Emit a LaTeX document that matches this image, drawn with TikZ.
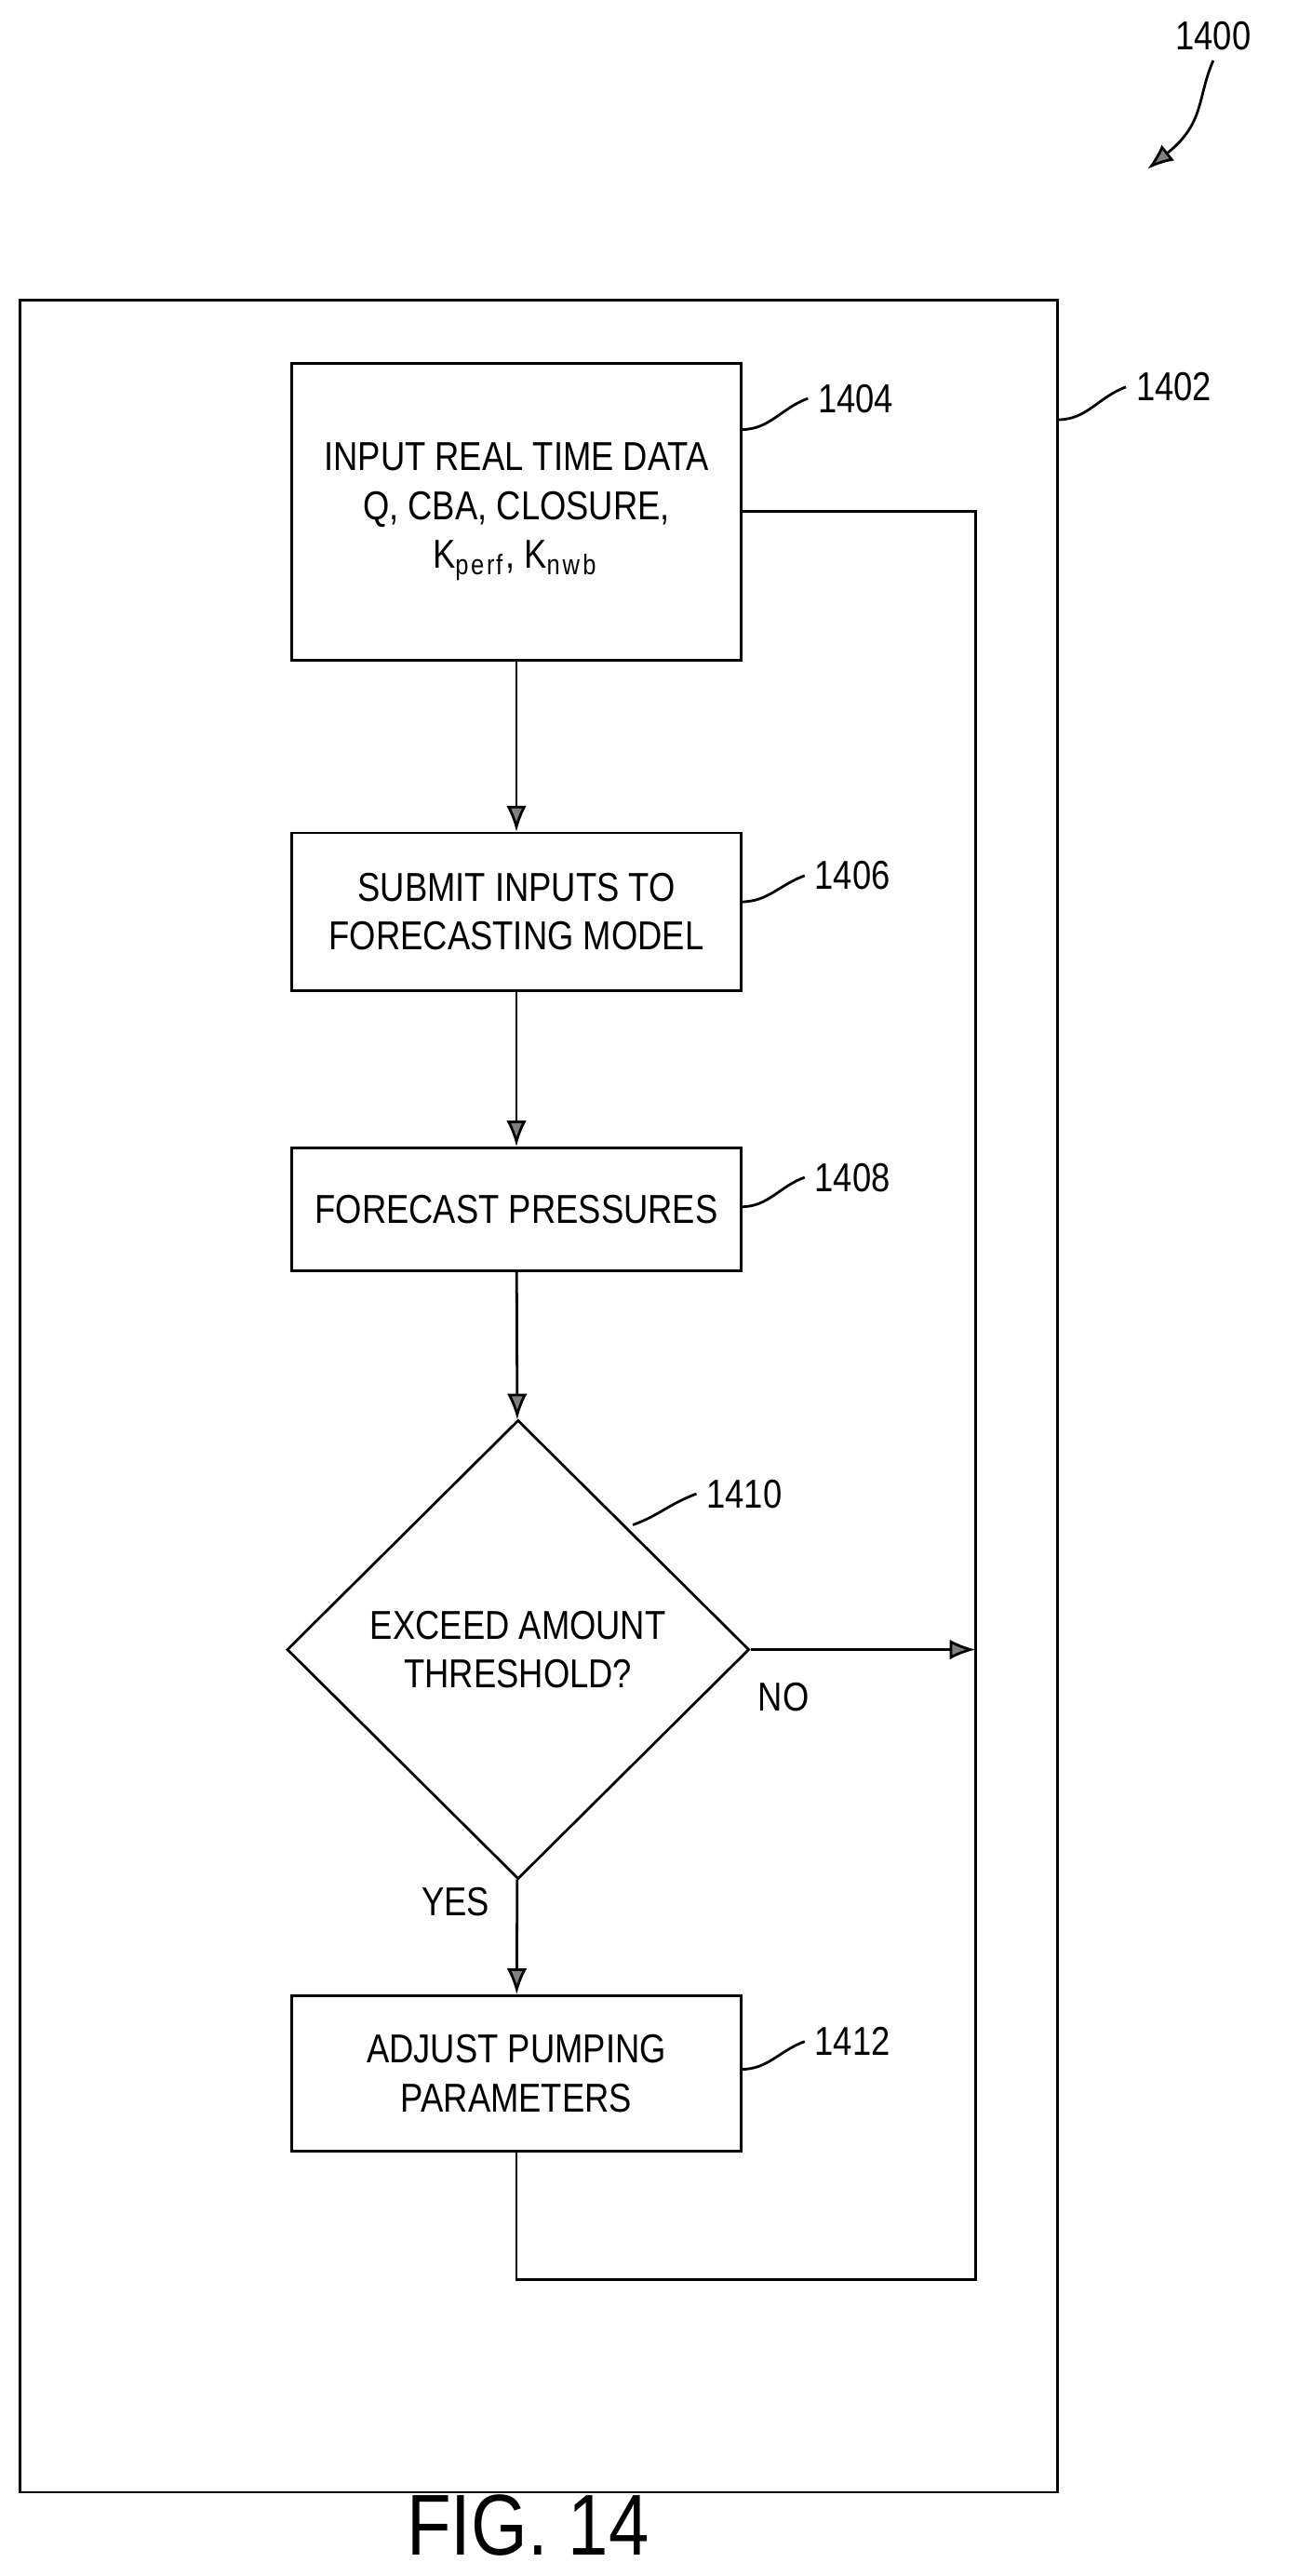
\documentclass[tikz,border=0pt]{standalone}
\usepackage{fontspec}
\setmainfont{Liberation Sans}[FakeStretch=0.84]
\usetikzlibrary{arrows.meta,shapes.geometric,positioning}
\begin{document}
\begin{tikzpicture}[x=0.02cm,y=-0.02cm,
  step_node/.style={draw,line width=0.9pt,minimum width=5.48cm,align=center,font=\fontsize{14}{17}\selectfont,inner sep=2pt},
  dec_node/.style={draw,line width=0.9pt,diamond,minimum width=5.64cm,minimum height=5.6cm,align=center,font=\fontsize{14}{17}\selectfont,inner sep=0pt},
  ref_label/.style={font=\fontsize{14}{17}\selectfont},
  flow/.style={line width=0.9pt,-{Latex[length=9pt,width=7pt,fill=gray]}},
  line/.style={line width=0.9pt}]
\useasboundingbox (0,0) rectangle (800,1571);

\node[draw,line width=0.9pt,minimum width=12.66cm,minimum height=26.74cm] (frame) at (328.5,851.5) {};

\node[step_node,minimum height=3.62cm] (1404) at (315,312) {INPUT REAL TIME DATA\\Q, CBA, CLOSURE,\\K$_{\mathrm{perf}}$, K$_{\mathrm{nwb}}$};
\node[step_node,minimum height=1.92cm] (1406) at (315,556) {SUBMIT INPUTS TO\\FORECASTING MODEL};
\node[step_node,minimum height=1.5cm] (1408) at (315,737.5) {FORECAST PRESSURES};
\node[dec_node] (1410) at (316,1006) {EXCEED AMOUNT\\THRESHOLD?};
\node[step_node,minimum height=1.9cm] (1412) at (315,1264.5) {ADJUST PUMPING\\PARAMETERS};

\coordinate (loop_top) at (595,312);
\coordinate (loop_join) at (595,1006);
\coordinate (loop_bot) at (595,1390);

% flow
\draw[flow] (1404) -- (1406);
\draw[flow] (1406) -- (1408);
\draw[flow] (1408) -- (1410);
\draw[flow] (1410) -- (1412);
\draw[flow] (1410.east) -- (loop_join);
\draw[line] (1404.east |- loop_top) -- (loop_top) -- (loop_bot) -| (1412.south);

\node[ref_label] (no) at (478,1035) {NO};
\node[ref_label] (yes) at (278,1160) {YES};

% reference numerals
\node[ref_label] (l1404) at (522,243) {1404};
\draw[line] (452,262) to[out=0,in=200] (l1404.west);
\node[ref_label] (l1402) at (716,236) {1402};
\draw[line] (645,256) to[out=0,in=200] (l1402.west);
\node[ref_label] (l1406) at (520,534) {1406};
\draw[line] (452,550) to[out=0,in=200] (l1406.west);
\node[ref_label] (l1408) at (520,718) {1408};
\draw[line] (452,736) to[out=0,in=200] (l1408.west);
\node[ref_label] (l1410) at (454,911) {1410};
\draw[line] (386,930) to[out=20,in=200] (l1410.west);
\node[ref_label] (l1412) at (520,1245) {1412};
\draw[line] (452,1262) to[out=0,in=200] (l1412.west);
\node[ref_label] (l1400) at (740,22) {1400};
\coordinate (arr1400) at (700,103);
\draw[flow] (l1400.south) .. controls (730,60) and (735,75) .. (arr1400);

\node[font=\fontsize{30}{34}\selectfont] (fig) at (322,1540) {FIG. 14};
\end{tikzpicture}
\end{document}
